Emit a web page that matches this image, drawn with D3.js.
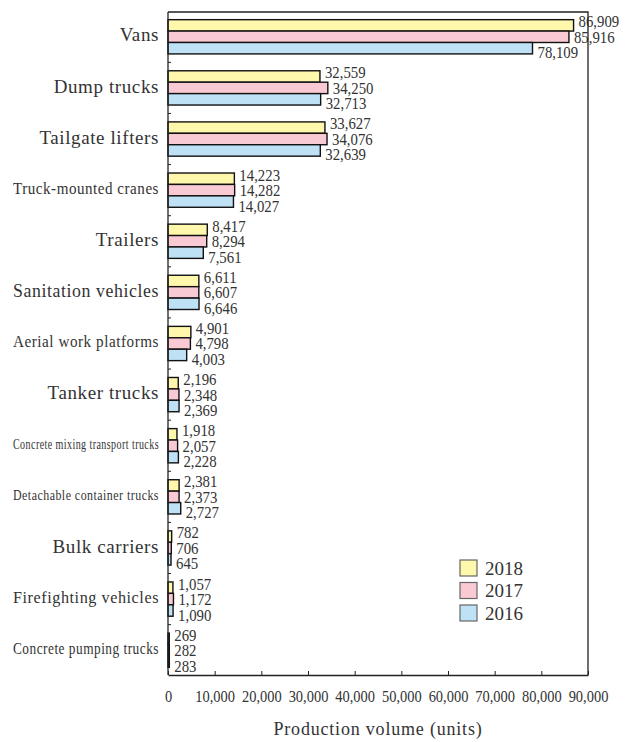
<!DOCTYPE html>
<html>
<head>
<meta charset="utf-8">
<script src="https://cdn.jsdelivr.net/npm/d3@7"></script>
<style>
  body { margin: 0; background: #fff; }
</style>
</head>
<body>
<div id="chart"></div>
<script>
//data
const categories = ["Vans", "Dump trucks", "Tailgate lifters", "Truck-mounted cranes", "Trailers",
    "Sanitation vehicles", "Aerial work platforms", "Tanker trucks", "Concrete mixing transport trucks",
    "Detachable container trucks", "Bulk carriers", "Firefighting vehicles", "Concrete pumping trucks"];
const years = ["2018", "2017", "2016"];
const v2018 = [86909, 32559, 33627, 14223, 8417, 6611, 4901, 2196, 1918, 2381, 782, 1057, 269];
const v2017 = [85916, 34250, 34076, 14282, 8294, 6607, 4798, 2348, 2057, 2373, 706, 1172, 282];
const v2016 = [78109, 32713, 32639, 14027, 7561, 6646, 4003, 2369, 2228, 2727, 645, 1090, 283];
const xTicks = [0, 10000, 20000, 30000, 40000, 50000, 60000, 70000, 80000, 90000];

const seriesValues = { "2018": v2018, "2017": v2017, "2016": v2016 };
const colors = { "2018": "#fff7ab", "2017": "#f9cad4", "2016": "#bfe1f6" };
const serif = "'Liberation Serif', 'DejaVu Serif', serif";

//dimensions
const W = 631, H = 742;
const plot = { left: 168, right: 588, top: 12, bottom: 675 };

const svg = d3.select("#chart").append("svg")
    .attr("width", W)
    .attr("height", H)
    .attr("font-family", serif);

//scales
const x = d3.scaleLinear().domain([0, 90000]).range([plot.left, plot.right]);
const y = d3.scaleBand().domain(categories).range([plot.top, plot.bottom])
    .paddingInner(0.33).paddingOuter(0.15);
const ySub = d3.scaleBand().domain(years).range([0, y.bandwidth()]);

const fmt = d3.format(",");

//bars
const groups = svg.append("g")
    .selectAll("g")
    .data(categories)
    .join("g")
    .attr("transform", d => `translate(0,${y(d)})`);

groups.selectAll("rect")
    .data((c, i) => years.map(yr => ({ year: yr, value: seriesValues[yr][i] })))
    .join("rect")
    .attr("x", x(0))
    .attr("y", d => ySub(d.year))
    .attr("width", d => x(d.value) - x(0))
    .attr("height", ySub.bandwidth())
    .attr("fill", d => colors[d.year])
    .attr("stroke", "#111")
    .attr("stroke-width", 1.4);

//value labels, spread out around the group centre
groups.selectAll("text")
    .data((c, i) => years.map((yr, j) => ({ j: j, value: seriesValues[yr][i] })))
    .join("text")
    .attr("transform", d => `translate(${x(d.value) + 5},${y.bandwidth() / 2 + (d.j - 1) * 15.5}) scale(0.87,1)`)
    .attr("dy", "0.35em")
    .attr("font-family", serif)
    .attr("font-size", 17)
    .attr("fill", "#333")
    .text(d => fmt(d.value));

//frame: top and right
svg.append("path")
    .attr("d", `M${plot.left},${plot.top}H${plot.right}V${plot.bottom}`)
    .attr("fill", "none")
    .attr("stroke", "#222")
    .attr("stroke-width", 1.3);

//left axis line + inward ticks between groups
svg.append("line")
    .attr("x1", plot.left).attr("x2", plot.left)
    .attr("y1", plot.top).attr("y2", plot.bottom)
    .attr("stroke", "#222").attr("stroke-width", 1.3);

svg.append("g")
    .selectAll("line")
    .data(categories.slice(1))
    .join("line")
    .attr("x1", plot.left).attr("x2", plot.left + 3)
    .attr("y1", d => y(d) - y.step() * y.paddingInner() / 2)
    .attr("y2", d => y(d) - y.step() * y.paddingInner() / 2)
    .attr("stroke", "#222");

//category labels, squeezed when too wide
const maxW = 146;
svg.append("g")
    .selectAll("text")
    .data(categories)
    .join("text")
    .attr("x", plot.left - 9)
    .attr("y", d => y(d) + y.bandwidth() / 2 - 2)
    .attr("dy", "0.35em")
    .attr("text-anchor", "end")
    .attr("font-family", serif)
    .attr("font-size", 19)
    .attr("letter-spacing", 0.6)
    .attr("fill", "#333")
    .text(d => d)
    .each(function () {
        const t = d3.select(this);
        const w = this.getComputedTextLength();
        if (w > maxW) {
            const r = maxW / w;
            t.attr("font-size", 19 * Math.max(0.7, Math.sqrt(r)));
            t.attr("textLength", maxW).attr("lengthAdjust", "spacingAndGlyphs");
        }
    });

//bottom axis
const xAxis = svg.append("g")
    .attr("transform", `translate(0,${plot.bottom})`)
    .call(d3.axisBottom(x).tickValues(xTicks).tickFormat(fmt)
        .tickSizeInner(-4).tickSizeOuter(0).tickPadding(15));
xAxis.attr("font-family", serif);
xAxis.select(".domain").attr("stroke", "#222").attr("stroke-width", 1.3);
xAxis.selectAll(".tick line").attr("stroke", "#222");
xAxis.selectAll(".tick text")
    .attr("fill", "#333")
    .attr("transform", "scale(0.85,1)")
    .attr("font-family", serif)
    .attr("font-size", 17);

//axis title
svg.append("text")
    .attr("x", (plot.left + plot.right) / 2)
    .attr("y", 735)
    .attr("text-anchor", "middle")
    .attr("font-family", serif)
    .attr("font-size", 18)
    .attr("letter-spacing", 0.8)
    .attr("fill", "#333")
    .text("Production volume (units)");

//legend
const legend = svg.append("g").attr("transform", "translate(460,560)");
years.forEach((yr, i) => {
    const row = legend.append("g").attr("transform", `translate(0,${i * 22.5})`);
    row.append("rect")
        .attr("width", 17).attr("height", 16)
        .attr("fill", colors[yr])
        .attr("stroke", "#666").attr("stroke-width", 1.2);
    row.append("text")
        .attr("x", 25).attr("y", 8)
        .attr("dy", "0.35em")
        .attr("font-family", serif)
        .attr("font-size", 19)
        .attr("fill", "#333")
        .text(yr);
});
</script>
</body>
</html>
